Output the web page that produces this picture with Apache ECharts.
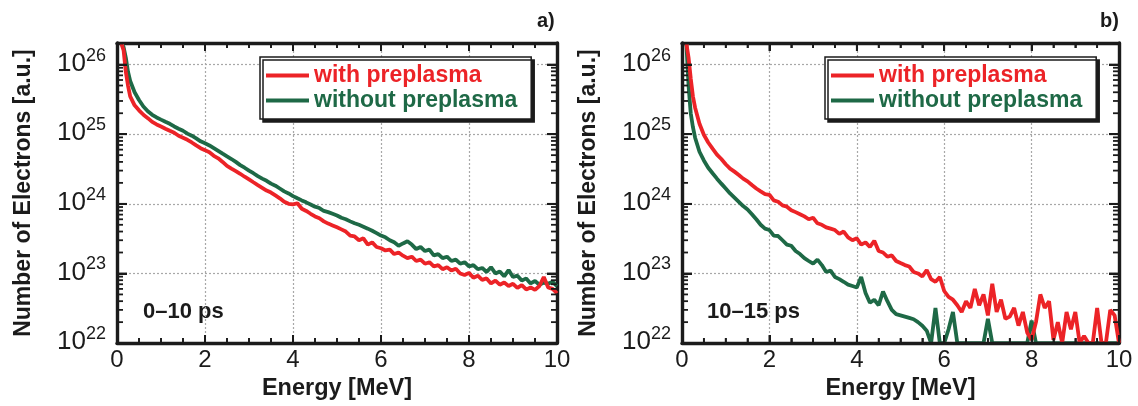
<!DOCTYPE html>
<html><head><meta charset="utf-8">
<script src="https://cdn.jsdelivr.net/npm/echarts@6/dist/echarts.min.js"></script>
<style>html,body{margin:0;padding:0;background:#fff}#c{width:1138px;height:406px}</style>
</head><body><div id="c"></div>
<script>
// Energy grid [MeV]
const energy = [0.1,0.15,0.2,0.25,0.3,
0.4,0.5,0.6,0.7,0.8,0.9,1.0,
1.1,1.2,1.3,1.4,1.5,1.6,1.7,1.8,1.9,2.0,
2.1,2.2,2.3,2.4,2.5,2.6,2.7,2.8,2.9,3.0,
3.1,3.2,3.3,3.4,3.5,3.6,3.7,3.8,3.9,4.0,
4.1,4.2,4.3,4.4,4.5,4.6,4.7,4.8,4.9,5.0,
5.1,5.2,5.3,5.4,5.5,5.6,5.7,5.8,5.9,6.0,
6.1,6.2,6.3,6.4,6.5,6.6,6.7,6.8,6.9,7.0,
7.1,7.2,7.3,7.4,7.5,7.6,7.7,7.8,7.9,8.0,
8.1,8.2,8.3,8.4,8.5,8.6,8.7,8.8,8.9,9.0,
9.1,9.2,9.3,9.4,9.5,9.6,9.7,9.8,9.9,10.0];

// Panel a) 0–10 ps
const withPreA = [2.0e26,1.6e26,7.9e25,5.0e25,3.5e25,
2.6e25,2.2e25,1.9e25,1.7e25,1.5e25,1.38e25,1.29e25,
1.2e25,1.12e25,1.05e25,9.5e24,8.9e24,8.3e24,7.6e24,6.9e24,6.3e24,5.9e24,
5.5e24,4.9e24,4.5e24,4.0e24,3.5e24,3.2e24,2.95e24,2.7e24,2.45e24,2.24e24,
2.04e24,1.86e24,1.7e24,1.55e24,1.45e24,1.32e24,1.2e24,1.07e24,1.0e24,9.8e23,
1.02e24,8.5e23,7.9e23,7.2e23,6.6e23,6.2e23,5.6e23,5.2e23,4.9e23,4.6e23,
4.3e23,4.0e23,3.5e23,3.4e23,3.0e23,3.2e23,2.6e23,2.8e23,2.4e23,2.3e23,
2.14e23,2.2e23,1.9e23,2.0e23,1.8e23,1.66e23,1.74e23,1.51e23,1.58e23,1.38e23,
1.45e23,1.26e23,1.32e23,1.15e23,1.23e23,1.1e23,1.17e23,1.0e23,9.5e22,1.02e23,
8.7e22,9.3e22,8.1e22,8.5e22,7.2e22,7.9e22,6.9e22,7.4e22,6.6e22,7.1e22,
6.2e22,6.8e22,5.9e22,6.3e22,5.8e22,6.6e22,8.9e22,6.3e22,6.0e22,5.2e22];
const withoutPreA = [2.0e26,1.78e26,1.26e26,7.9e25,5.8e25,
4.0e25,3.1e25,2.5e25,2.14e25,1.9e25,1.74e25,1.62e25,
1.51e25,1.41e25,1.29e25,1.2e25,1.12e25,1.02e25,9.5e24,8.7e24,7.9e24,7.4e24,
6.9e24,6.3e24,5.75e24,5.25e24,4.8e24,4.4e24,4.0e24,3.6e24,3.3e24,3.0e24,
2.75e24,2.5e24,2.3e24,2.14e24,1.95e24,1.82e24,1.66e24,1.51e24,1.41e24,1.29e24,
1.2e24,1.12e24,1.05e24,9.8e23,9.1e23,8.7e23,7.9e23,7.6e23,7.2e23,6.8e23,
6.3e23,6.0e23,5.6e23,5.25e23,5.0e23,4.7e23,4.4e23,4.1e23,3.8e23,3.5e23,
3.3e23,3.0e23,2.8e23,2.5e23,2.7e23,2.9e23,2.6e23,2.24e23,2.4e23,2.1e23,
2.2e23,1.82e23,1.9e23,1.66e23,1.74e23,1.51e23,1.58e23,1.38e23,1.45e23,1.26e23,
1.32e23,1.15e23,1.2e23,1.05e23,1.23e23,1.0e23,1.07e23,9.1e22,1.12e23,8.9e22,
9.3e22,7.9e22,8.5e22,7.2e22,7.8e22,6.9e22,7.4e22,7.1e22,7.6e22,6.6e22];

// Panel b) 10–15 ps  (1e22 = at or below the plot floor)
const withPreB = [2.0e26,1.26e26,6.3e25,3.5e25,2.4e25,
1.41e25,9.8e24,7.6e24,6.2e24,5.1e24,4.4e24,3.7e24,
3.2e24,2.9e24,2.6e24,2.3e24,2.1e24,1.86e24,1.66e24,1.51e24,1.38e24,1.35e24,
1.12e24,1.07e24,9.5e23,9.1e23,8.1e23,7.6e23,7.1e23,6.6e23,6.0e23,6.3e23,
5.25e23,5.0e23,4.6e23,4.4e23,4.2e23,3.7e23,4.0e23,3.3e23,3.0e23,3.2e23,
2.6e23,2.8e23,2.4e23,2.95e23,2.1e23,2.0e23,1.74e23,1.82e23,1.51e23,1.41e23,
1.32e23,1.26e23,1.05e23,1.0e23,9.1e22,1.12e23,8.3e22,7.6e22,8.9e22,5.6e22,
4.6e22,4.2e22,3.5e22,2.8e22,4.0e22,3.2e22,6.0e22,3.5e22,5.0e22,2.5e22,
7.1e22,2.8e22,4.2e22,2.24e22,2.4e22,3.2e22,1.78e22,2.8e22,1.41e22,1.12e22,
2.0e22,5.0e22,3.2e22,4.0e22,1.12e22,2.0e22,1.0e22,2.8e22,1.58e22,2.8e22,
1.0e22,1.26e22,1.0e22,1.0e22,3.2e22,1.0e22,1.0e22,3.0e22,2.5e22,1.0e22];
const withoutPreB = [2.0e26,5.0e25,2.0e25,1.26e25,8.9e24,
5.6e24,4.2e24,3.3e24,2.75e24,2.3e24,1.95e24,1.66e24,
1.41e24,1.23e24,1.07e24,9.3e23,8.3e23,7.1e23,6.0e23,5.0e23,4.4e23,4.2e23,
3.5e23,3.45e23,3.0e23,2.6e23,2.5e23,2.1e23,1.9e23,1.66e23,1.51e23,1.38e23,
1.58e23,1.32e23,1.05e23,1.1e23,8.9e22,8.3e22,7.6e22,6.9e22,6.6e22,6.3e22,
8.9e22,5.25e22,3.8e22,4.2e22,3.5e22,5.5e22,4.0e22,3.0e22,2.6e22,2.5e22,
2.4e22,2.3e22,2.2e22,2.0e22,1.78e22,1.51e22,1.0e22,3.2e22,1.0e22,1.0e22,
1.58e22,2.8e22,1.0e22,1.0e22,1.0e22,1.0e22,1.0e22,1.0e22,1.0e22,2.24e22,
1.0e22,1.0e22,1.0e22,1.0e22,1.0e22,1.0e22,1.0e22,1.0e22,1.0e22,2.1e22,
1.0e22,1.0e22,1.0e22,1.0e22,1.0e22,1.0e22,1.0e22,1.0e22,1.0e22,1.0e22,
1.0e22,1.0e22,1.0e22,1.0e22,1.0e22,1.0e22,1.0e22,1.0e22,1.0e22,1.0e22];

const xMajorTicks = [2, 4, 6, 8];
const xMinorTicks = [0.5,1,1.5,2.5,3,3.5,4.5,5,5.5,6.5,7,7.5,8.5,9,9.5];
const yMajorTicks = [1e23, 1e24, 1e25, 1e26];
const yMinorTicks = [
  2e22,3e22,4e22,5e22,6e22,7e22,8e22,9e22,
  2e23,3e23,4e23,5e23,6e23,7e23,8e23,9e23,
  2e24,3e24,4e24,5e24,6e24,7e24,8e24,9e24,
  2e25,3e25,4e25,5e25,6e25,7e25,8e25,9e25,
  2e26];
const yMin = 1e22, yMax = 2.04e26;
const seriesNames = ['with preplasma', 'without preplasma'];
const panelLabels = ['a)', 'b)'];
const timeLabels = ['0\u201310 ps', '10\u201315 ps'];

const RED = '#ec2327', GREEN = '#1e6946', INK = '#1b1b1b';
const FONT = '"Liberation Sans", Arial, Helvetica, sans-serif';

const pairs = (ys) => energy.map((e, i) => [e, ys[i]]);

const grids = [
  {left: 117, top: 43, width: 440, height: 308},
  {left: 682, top: 43, width: 437, height: 308}
];

function yLabel(v) {
  const l = Math.log10(v), e = Math.round(l);
  if (Math.abs(l - e) > 1e-6) return '';
  return '{b|10}{s|' + e + '}';
}

const FRAME = {show: true, onZero: false, lineStyle: {color: INK, width: 3.4}};
const GRIDLINE = {show: true, lineStyle: {color: '#a8a8a8', type: [2, 2], width: 1.2}};

// tick mark renderers (data-driven through the axes via api.coord), on their own top layer
function yTickItem(params, api) {
  const cs = params.coordSys;
  const y = api.coord([api.value(0), api.value(1)])[1];
  const len = api.value(2);
  return {type: 'group', children: [
    {type: 'rect', shape: {x: cs.x, y: y - 0.9, width: len, height: 1.8}, style: {fill: INK}},
    {type: 'rect', shape: {x: cs.x + cs.width - len, y: y - 0.9, width: len, height: 1.8}, style: {fill: INK}}
  ]};
}
function xTickItem(params, api) {
  const cs = params.coordSys;
  const x = api.coord([api.value(0), api.value(1)])[0];
  const len = api.value(2);
  return {type: 'group', children: [
    {type: 'rect', shape: {x: x - 0.9, y: cs.y + cs.height - len, width: 1.8, height: len}, style: {fill: INK}},
    {type: 'rect', shape: {x: x - 0.9, y: cs.y, width: 1.8, height: len}, style: {fill: INK}}
  ]};
}

const xAxes = [], yAxes = [], series = [], legends = [];
grids.forEach((g, gi) => {
  xAxes.push({type: 'value', gridIndex: gi, min: 0, max: 10, interval: 2, position: 'bottom', z: 5,
    axisLine: FRAME,
    axisTick: {show: true, inside: true, length: 8, lineStyle: {color: INK, width: 2}},
    minorTick: {show: true, splitNumber: 4, length: 5, lineStyle: {color: INK, width: 1.6}},
    axisLabel: {fontFamily: FONT, fontSize: 24, color: INK, margin: 5},
    splitLine: {show: false},
    name: 'Energy [MeV]', nameLocation: 'middle', nameGap: 31,
    nameTextStyle: {fontFamily: FONT, fontSize: 23.5, fontWeight: 'bold', color: INK}
  });
  xAxes.push({type: 'value', gridIndex: gi, min: 0, max: 10, interval: 2, position: 'top', z: 0,
    axisLine: FRAME,
    axisTick: {show: true, inside: true, length: 8, lineStyle: {color: INK, width: 2}},
    minorTick: {show: true, splitNumber: 4, length: 5, lineStyle: {color: INK, width: 1.6}},
    axisLabel: {show: false}, splitLine: GRIDLINE
  });
  yAxes.push({type: 'log', logBase: 10, gridIndex: gi, min: yMin, max: yMax, position: 'left', z: 5,
    axisLine: FRAME,
    axisTick: {show: true, inside: true, length: 10, lineStyle: {color: INK, width: 2}},
    axisLabel: {formatter: yLabel, margin: 11, padding: [0, 0, 6, 0],
      rich: {
        b: {fontFamily: FONT, fontSize: 26, color: INK, padding: [4, 0, 0, 0]},
        s: {fontFamily: FONT, fontSize: 18, color: INK, verticalAlign: 'top'}
      }},
    splitLine: {show: false},
    name: 'Number of Electrons [a.u.]', nameLocation: 'middle', nameRotate: 90, nameGap: 82,
    nameTextStyle: {fontFamily: FONT, fontSize: 23, fontWeight: 'bold', color: INK}
  });
  yAxes.push({type: 'log', logBase: 10, gridIndex: gi, min: yMin, max: yMax, position: 'right', z: 0,
    axisLine: FRAME,
    axisTick: {show: true, inside: true, length: 10, lineStyle: {color: INK, width: 2}},
    axisLabel: {show: false}, splitLine: GRIDLINE
  });
  const xi = gi * 2, yi = gi * 2;
  const dataSets = gi === 0 ? [withPreA, withoutPreA] : [withPreB, withoutPreB];
  [1, 0].forEach(k => {
    series.push({
      type: 'line', name: seriesNames[k], xAxisIndex: xi, yAxisIndex: yi,
      data: pairs(dataSets[k]), showSymbol: false, symbol: 'none', clip: false,
      lineStyle: {color: k === 0 ? RED : GREEN, width: 3.8},
      itemStyle: {color: k === 0 ? RED : GREEN},
      z: 2
    });
  });
  const yTickData = yMajorTicks.map(v => [0, v, 10]).concat(yMinorTicks.map(v => [0, v, 6]));
  const xTickData = xMajorTicks.map(v => [v, yMin, 8]).concat(xMinorTicks.map(v => [v, yMin, 5]));
  series.push({type: 'custom', xAxisIndex: xi, yAxisIndex: yi, coordinateSystem: 'cartesian2d',
    encode: {x: 0, y: 1}, data: yTickData, renderItem: yTickItem,
    clip: false, silent: true, zlevel: 1, z: 100});
  series.push({type: 'custom', xAxisIndex: xi, yAxisIndex: yi, coordinateSystem: 'cartesian2d',
    encode: {x: 0, y: 1}, data: xTickData, renderItem: xTickItem,
    clip: false, silent: true, zlevel: 1, z: 100});
  legends.push({
    orient: 'vertical', left: gi === 0 ? 260 : 825, top: 57,
    data: [
      {name: seriesNames[0], textStyle: {color: RED}},
      {name: seriesNames[1], textStyle: {color: GREEN}}
    ],
    icon: 'rect', itemWidth: 43, itemHeight: 3.8, itemGap: 2, itemStyle: {borderWidth: 0},
    padding: [7, 14, 7, 6],
    backgroundColor: '#fff', borderColor: INK, borderWidth: 1.5,
    shadowColor: INK, shadowBlur: 0, shadowOffsetX: 3, shadowOffsetY: 3,
    textStyle: {fontFamily: FONT, fontSize: 23, fontWeight: 'bold', lineHeight: 20},
    selectedMode: false
  });
});

const chart = echarts.init(document.getElementById('c'), null, {renderer: 'canvas'});
chart.setOption({
  animation: false,
  backgroundColor: '#fff',
  grid: grids,
  xAxis: xAxes, yAxis: yAxes, series: series, legend: legends,
  graphic: [
    {type: 'text', left: 537, top: 11, style: {text: panelLabels[0], font: 'bold 20px ' + FONT, fill: INK}},
    {type: 'text', left: 1100, top: 11, style: {text: panelLabels[1], font: 'bold 20px ' + FONT, fill: INK}},
    {type: 'text', left: 143, top: 301, style: {text: timeLabels[0], font: 'bold 22px ' + FONT, fill: INK}},
    {type: 'text', left: 707, top: 301, style: {text: timeLabels[1], font: 'bold 22px ' + FONT, fill: INK}}
  ]
});
</script></body></html>
